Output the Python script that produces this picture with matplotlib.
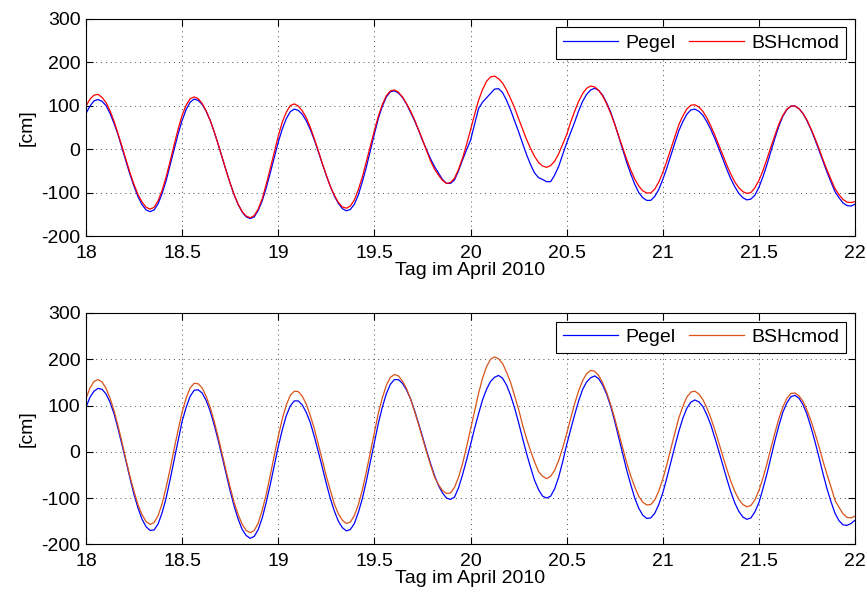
import numpy as np
import matplotlib
matplotlib.use('Agg')
import matplotlib.pyplot as plt
from matplotlib.ticker import MultipleLocator, FormatStrFormatter

plt.rcParams['font.family'] = ['Liberation Sans', 'DejaVu Sans']
plt.rcParams['font.size'] = 14
plt.rcParams['axes.unicode_minus'] = False

# half-hourly values from 18.04. 00:00 to 22.04. 00:00
hours = np.arange(0, 96.5, 0.5)
tag = 18 + hours / 24.0

# oben
pegel_1 = [82, 99, 111, 114, 110, 100, 82, 59, 33, 2, -29, -59,
           -86, -110, -128, -140, -144, -140, -126, -102, -73, -37, 0, 35,
           66, 91, 108, 115, 112, 103, 87, 66, 40, 11, -20, -50,
           -79, -106, -128, -145, -156, -160, -156, -141, -119, -89, -55, -19,
           16, 46, 70, 86, 92, 89, 80, 65, 45, 21, -6, -34,
           -61, -86, -108, -125, -137, -142, -139, -127, -105, -75, -41, -3,
           35, 71, 99, 120, 132, 134, 129, 119, 104, 85, 66, 44,
           20, -1, -22, -40, -55, -70, -79, -79, -71, -50, -25, -2,
           20, 57, 93, 108, 118, 128, 138, 139, 130, 112, 90, 65,
           40, 13, -13, -36, -55, -66, -70, -75, -75, -60, -40, -13,
           14, 38, 62, 88, 110, 126, 136, 140, 135, 124, 106, 85,
           58, 28, -1, -31, -57, -81, -100, -112, -118, -118, -109, -93,
           -70, -44, -15, 14, 42, 63, 80, 90, 92, 87, 78, 63,
           45, 24, 1, -23, -47, -69, -87, -102, -112, -117, -115, -106,
           -88, -64, -36, -5, 25, 53, 76, 91, 99, 99, 93, 82,
           65, 45, 22, -3, -28, -53, -76, -98, -112, -124, -130, -131,
           -127]
bsh_1 = [99, 115, 124, 126, 119, 107, 88, 64, 35, 6, -25, -55,
         -82, -105, -122, -134, -138, -134, -119, -95, -64, -28, 10, 46,
         78, 101, 116, 120, 116, 105, 88, 66, 40, 11, -19, -50,
         -79, -105, -127, -144, -154, -158, -153, -138, -114, -81, -45, -7,
         30, 62, 85, 100, 104, 99, 88, 72, 50, 24, -4, -33,
         -60, -86, -106, -123, -133, -136, -131, -117, -93, -64, -29, 7,
         43, 76, 103, 123, 134, 136, 131, 120, 105, 88, 68, 45,
         22, -3, -27, -46, -60, -72, -79, -77, -67, -47, -21, 10,
         44, 79, 112, 137, 156, 166, 168, 162, 152, 136, 116, 95,
         70, 46, 22, 1, -17, -31, -39, -42, -38, -28, -11, 11,
         33, 62, 87, 110, 128, 140, 145, 143, 135, 122, 104, 82,
         57, 30, 3, -24, -48, -69, -85, -96, -101, -101, -92, -76,
         -54, -28, 0, 28, 56, 76, 92, 101, 102, 97, 87, 72,
         53, 32, 9, -14, -37, -58, -76, -89, -98, -102, -100, -89,
         -72, -50, -23, 5, 32, 58, 78, 92, 99, 99, 93, 82,
         67, 47, 25, 1, -24, -48, -70, -91, -105, -116, -122, -123,
         -121]

# unten
pegel_2 = [96, 118, 131, 137, 135, 125, 107, 82, 50, 15, -21, -58,
           -93, -122, -146, -162, -170, -169, -156, -132, -100, -60, -18, 24,
           66, 96, 120, 133, 134, 127, 111, 88, 58, 25, -12, -50,
           -85, -118, -146, -168, -181, -187, -183, -168, -143, -109, -71, -30,
           11, 47, 78, 99, 110, 110, 101, 85, 63, 33, 0, -34,
           -69, -101, -128, -150, -164, -171, -168, -155, -131, -101, -63, -21,
           21, 62, 97, 126, 146, 156, 156, 148, 134, 115, 90, 62,
           33, 3, -25, -51, -73, -89, -100, -103, -98, -78, -50, -18,
           15, 50, 82, 112, 135, 152, 161, 165, 159, 144, 122, 95,
           63, 29, -4, -34, -62, -82, -96, -100, -96, -80, -55, -22,
           15, 48, 80, 110, 135, 151, 160, 164, 158, 144, 124, 98,
           66, 31, -5, -40, -71, -100, -122, -137, -144, -143, -133, -114,
           -89, -57, -23, 11, 44, 72, 94, 107, 112, 108, 98, 80,
           58, 30, 1, -29, -59, -87, -111, -129, -141, -146, -143, -130,
           -110, -80, -48, -12, 24, 57, 86, 106, 119, 122, 116, 102,
           81, 53, 22, -12, -47, -80, -108, -133, -149, -158, -159, -155,
           -148]
bsh_2 = [115, 138, 152, 156, 151, 137, 116, 89, 56, 20, -18, -54,
         -86, -115, -136, -151, -157, -153, -138, -112, -77, -37, 6, 47,
         86, 116, 138, 148, 147, 138, 120, 96, 66, 32, -5, -42,
         -77, -110, -136, -157, -170, -175, -170, -154, -126, -92, -51, -8,
         33, 71, 101, 122, 131, 130, 120, 103, 78, 50, 16, -18,
         -53, -83, -113, -134, -148, -155, -152, -138, -114, -82, -43, -1,
         42, 84, 117, 144, 161, 167, 164, 153, 137, 115, 88, 60,
         30, 0, -28, -54, -71, -84, -90, -89, -77, -55, -26, 10,
         49, 89, 126, 159, 184, 200, 205, 201, 191, 172, 150, 121,
         92, 58, 28, 2, -22, -43, -53, -58, -53, -40, -19, 8,
         39, 72, 104, 132, 154, 169, 176, 174, 165, 149, 128, 102,
         72, 40, 8, -24, -52, -76, -96, -109, -115, -114, -104, -85,
         -59, -28, 6, 40, 73, 98, 118, 129, 131, 125, 113, 95,
         73, 47, 19, -10, -38, -64, -86, -103, -114, -119, -116, -104,
         -84, -57, -26, 8, 41, 72, 97, 116, 126, 127, 121, 109,
         90, 67, 40, 11, -20, -49, -76, -105, -120, -134, -142, -143,
         -139]

fig = plt.figure(figsize=(8.67, 5.99), dpi=100)
ax1 = fig.add_axes([0.0992, 0.606, 0.887, 0.3628])
ax2 = fig.add_axes([0.0992, 0.0913, 0.887, 0.3862])

panels = [(ax1, pegel_1, bsh_1, 'red'), (ax2, pegel_2, bsh_2, '#d95319')]
for ax, peg, bsh, rc in panels:
    ax.plot(tag, peg, color='blue', lw=0.9, label='Pegel')
    ax.plot(tag, bsh, color=rc, lw=0.9, label='BSHcmod')
    ax.set_xlim(18, 22)
    ax.set_ylim(-200, 300)
    ax.xaxis.set_major_locator(MultipleLocator(0.5))
    ax.yaxis.set_major_locator(MultipleLocator(100))
    ax.xaxis.set_major_formatter(FormatStrFormatter('%g'))
    ax.grid(True, color='0.3', linestyle=(0, (1, 4)), linewidth=0.7)
    ax.tick_params(direction='in', length=5, width=0.8, top=True, right=True,
                   labelsize=14)
    ax.tick_params(axis='x', pad=6.5)
    ax.tick_params(axis='y', pad=4)
    for s in ax.spines.values():
        s.set_linewidth(0.8)
    ax.set_xlabel('Tag im April 2010', labelpad=0)
    ax.set_ylabel('[cm]', labelpad=4)
    leg = ax.legend(loc='upper right', ncol=2, fancybox=False, framealpha=1,
                    edgecolor='black', handlelength=2.8, columnspacing=0.7,
                    handletextpad=0.4, borderpad=0.35, borderaxespad=0.45,
                    fontsize=14)
    leg.get_frame().set_linewidth(0.8)

fig.savefig('out.png', dpi=100)
